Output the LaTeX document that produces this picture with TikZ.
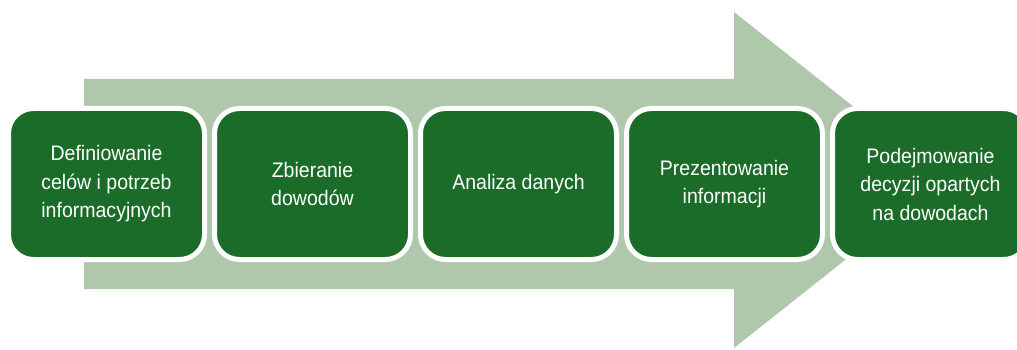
\documentclass[tikz,border=0pt]{standalone}
\usepackage{fontspec}
\newfontfamily\boxfont{Liberation Sans}[FakeStretch=0.93]
\definecolor{darkgreen}{RGB}{27,108,41}
\definecolor{lightgreen}{RGB}{175,200,171}
\tikzset{
  stepbox/.style={draw=white, line width=5pt, fill=darkgreen, rounded corners=25pt,
    minimum width=196pt, minimum height=151pt, align=center, text=white,
    font=\boxfont\fontsize{21}{28.5}\selectfont, inner sep=0pt},
  bigarrow/.style={fill=lightgreen, draw=none}
}
\begin{document}
\begin{tikzpicture}[x=1pt,y=-1pt]
\useasboundingbox (0,0) rectangle (1017,350);
\path[bigarrow] (84,79) -- (734,79) -- (734,12) -- (946,180) -- (734,348) -- (734,289) -- (84,289) -- cycle;
\node[stepbox] (s1) at (106.5,184) {Definiowanie\\celów i potrzeb\\informacyjnych};
\node[stepbox] (s2) at (312.5,184) {Zbieranie\\dowodów};
\node[stepbox] (s3) at (518.5,184) {Analiza danych};
\node[stepbox] (s4) at (724.5,184) {Prezentowanie\\informacji};
\node[stepbox] (s5) at (930.5,184) {Podejmowanie\\decyzji opartych\\na dowodach};
\end{tikzpicture}
\end{document}
